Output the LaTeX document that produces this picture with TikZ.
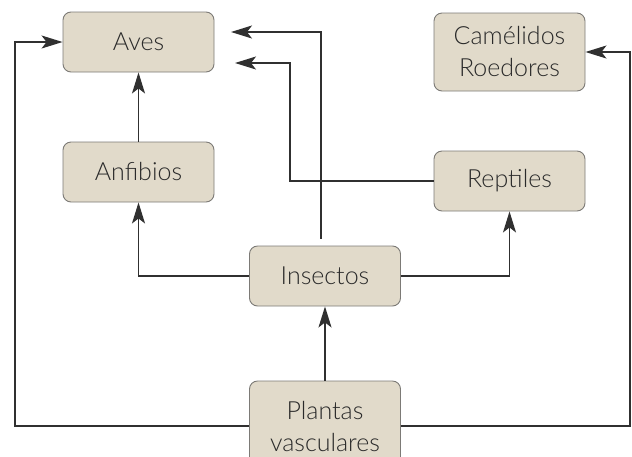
\documentclass[tikz,border=0pt]{standalone}
\usepackage{fontspec}
\setmainfont{Lato}[UprightFont=* Light]
\usetikzlibrary{arrows.meta}
\definecolor{boxfill}{HTML}{E1DACA}
\definecolor{boxline}{HTML}{7C7A76}
\definecolor{lin}{HTML}{303030}
\definecolor{txt}{HTML}{2A2A2A}
\begin{document}
\begin{tikzpicture}[x=1pt,y=-1pt,
  box/.style={draw=boxline,fill=boxfill,line width=0.9pt,rounded corners=8pt,
    minimum width=151pt,minimum height=60pt,inner sep=0pt,align=center,
    text=txt,font=\fontsize{25}{32}\selectfont},
  arr/.style={draw=lin,line width=1.3pt,-{Stealth[length=21pt,width=13pt,inset=5pt]}},
  ln/.style={draw=lin,line width=1.3pt}]
\useasboundingbox (0,0) rectangle (632,456);
\node[box] (av) at (138.5,42) {Aves};
\node[box,minimum height=78pt] (cam) at (509.5,52) {Camélidos\\Roedores};
\node[box] (anf) at (138.5,172) {Anfibios};
\node[box] (rep) at (509.5,181) {Reptiles};
\node[box] (ins) at (325,276) {Insectos};
\node[box,minimum height=90pt] (pl) at (325,426) {Plantas\\vasculares};
\coordinate (L) at (15,200);
\coordinate (R) at (630,200);
\coordinate (t1) at (231,32);
\coordinate (t2) at (235,63);
\coordinate (k1) at (321,150);
\coordinate (k2) at (290,120);
\draw[arr] (pl.west) -| (L) |- (av.west);
\draw[arr] (pl.east) -| (R) |- (cam.east);
\draw[arr] (pl.north) -- (ins.south);
\draw[arr] (ins.west) -| (anf.south);
\draw[arr] (ins.east) -| (rep.south);
\draw[arr] (anf.north) -- (av.south);
\draw[arr] (ins.north -| k1) ++(0,-7) |- (t1);
\draw[arr] (rep.west) -| (k2) |- (t2);
\end{tikzpicture}
\end{document}
